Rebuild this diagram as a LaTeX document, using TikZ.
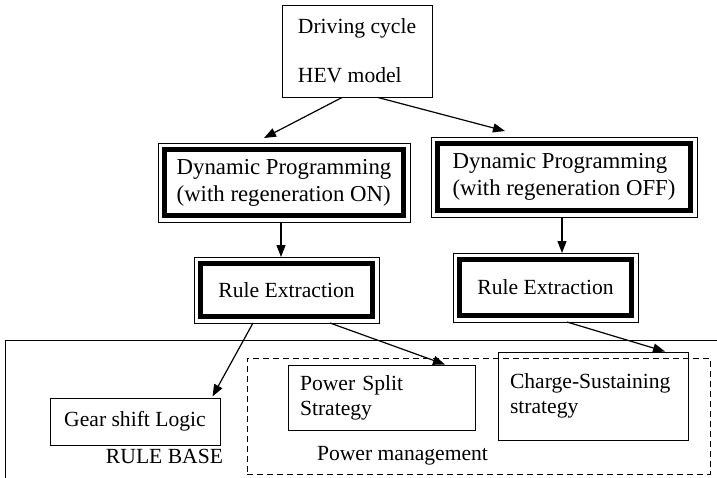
\documentclass[tikz,border=0pt]{standalone}
\usepackage{fontspec}
\setmainfont{Liberation Serif}
\usetikzlibrary{arrows.meta, calc, positioning}

\begin{document}
\begin{tikzpicture}[x=0.5pt, y=-0.5pt,
		plainbox/.style={draw, line width=0.5pt, inner sep=0pt, font=\fontsize{10.8}{12.5}\selectfont},
		heavybox/.style={draw, line width=2.5pt, inner sep=0pt, align=left},
		flow/.style={line width=0.6pt, -{Triangle[length=6pt, width=4.5pt]}}]
			\useasboundingbox (0,0) rectangle (717,477);
			\clip (0,0) rectangle (717,477);
			% Inputs
			\node[plainbox, align=left, minimum width=75pt, minimum height=46pt] (top) at (357,51) {Driving cycle\\[12pt]HEV model};
			
			% Dynamic programming and rule extraction
			\node[heavybox, minimum width=119.5pt, minimum height=33pt, font=\fontsize{11.4}{13.5}\selectfont] (dpon) at (284,182.5) {Dynamic Programming\\(with regeneration ON)};
			\node[heavybox, minimum width=126.5pt, minimum height=33.5pt, font=\fontsize{11.4}{13.5}\selectfont] (dpoff) at (564,177) {Dynamic Programming\\(with regeneration OFF)};
			\node[heavybox, minimum width=86pt, minimum height=26.5pt, font=\fontsize{10.8}{12.5}\selectfont] (ruleon) at (286.5,290) {Rule Extraction};
			\node[heavybox, minimum width=86pt, minimum height=28pt, font=\fontsize{10.8}{12.5}\selectfont] (ruleoff) at (545.5,287.5) {Rule Extraction};
			\foreach \n in {dpon,dpoff,ruleon,ruleoff}
				\draw[line width=0.5pt] ($(\n.north west)+(-4,-4)$) rectangle ($(\n.south east)+(4,4)$);
			
			% Rule base
			\node[plainbox, minimum width=362.5pt, minimum height=75pt] (rulebase) at (367.5,415) {};
			\node[plainbox, dashed, dash pattern=on 3pt off 2pt, minimum width=231.5pt, minimum height=58pt] (powermgmt) at (478.5,416) {};
			\node[plainbox, minimum width=85pt, minimum height=23.5pt] (gear) at (135,421.5) {Gear shift Logic};
			\node[plainbox, align=left, text width=81.5pt, inner xsep=6pt, minimum height=32.5pt] (pss) at (381.5,397.5) {Power Split\\Strategy};
			\node[plainbox, align=left, text width=83pt, inner xsep=6pt, minimum height=44pt] (css) at (593,396) {Charge-Sustaining\\strategy};
			\node[font=\fontsize{10.8}{12.5}\selectfont] (rbtext) at (164.5,456) {RULE BASE};
			\node[font=\fontsize{10.8}{12.5}\selectfont] (pmtext) at (402.5,456) {Power management};
			
			% Arrows
			\draw[flow] ($(top.south)+(-15,0)$) -- ($(dpon.north)+(-20,-9)$);
			\draw[flow] ($(top.south)+(21,0)$) -- ($(dpoff.north)+(-59,-10)$);
			\draw[flow] ($(dpon.south)+(-3,4)$) -- ($(ruleon.north)+(-5.5,-4)$);
			\draw[flow] ($(dpoff.south)+(-2,4)$) -- ($(ruleoff.north)+(16.5,-4)$);
			\draw[flow] ($(ruleon.south)+(-33.5,4)$) -- ($(gear.north east)+(-8,-1)$);
			\draw[flow] ($(ruleon.south)+(43.5,4)$) -- ($(pss.north)+(63.5,0)$);
			\draw[flow] ($(ruleoff.south)+(21.5,4)$) -- ($(css.north)+(72,0)$);
			
		\end{tikzpicture}
\end{document}
